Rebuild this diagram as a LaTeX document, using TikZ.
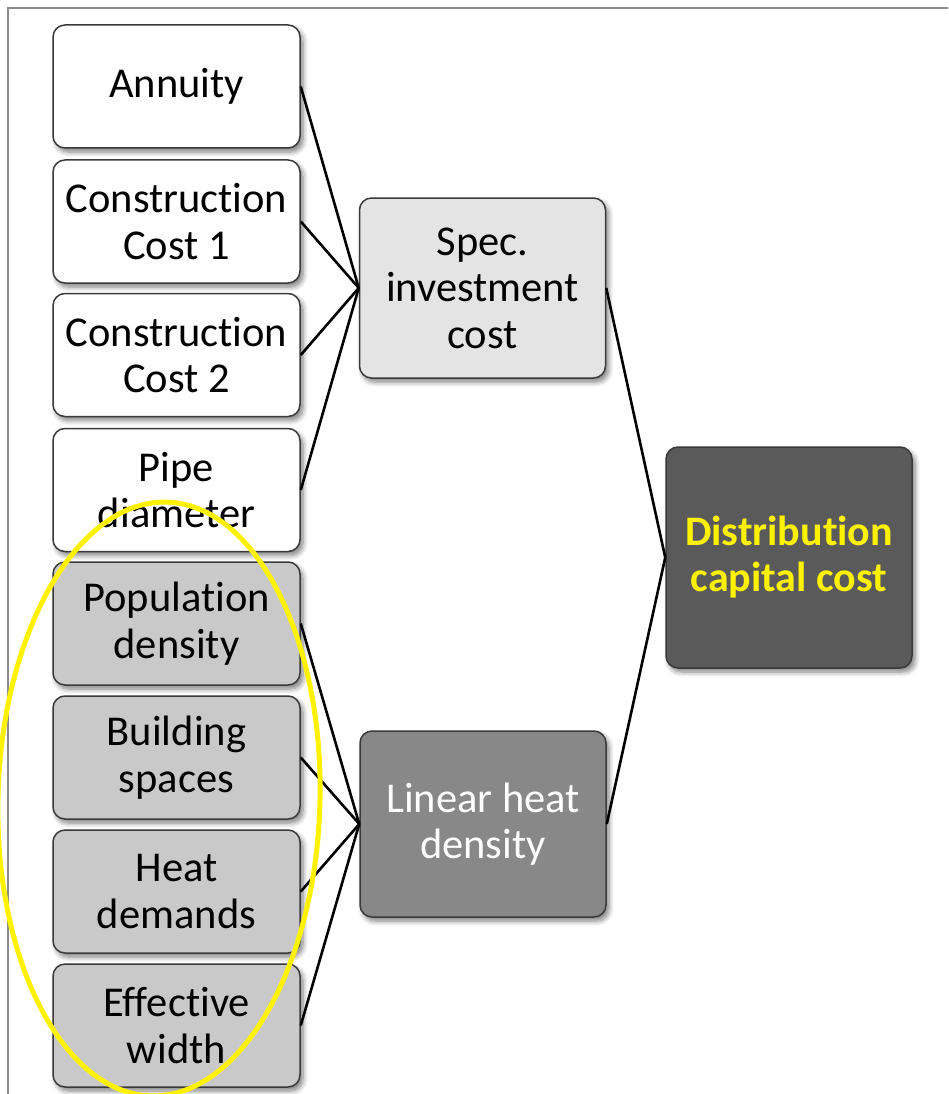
\documentclass[tikz,border=0pt]{standalone}
\usepackage{fontspec}
\setmainfont[Ligatures=NoCommon]{Carlito}
\usetikzlibrary{shadows.blur,shapes.geometric}
\definecolor{boxline}{HTML}{3A3A3A}
\definecolor{specfill}{HTML}{E4E4E4}
\definecolor{inputgray}{HTML}{C9C9C9}
\definecolor{linfill}{HTML}{888888}
\definecolor{distfill}{HTML}{5A5A5A}
\definecolor{framegray}{HTML}{8C8C8C}
\tikzset{
  card/.style={draw=boxline, line width=1.5pt, rounded corners=12pt,
    inner sep=0pt, align=center,
    font=\fontsize{42.5}{46.5}\selectfont,
    blur shadow={shadow xshift=3pt, shadow yshift=-4pt, shadow blur steps=6,
      shadow blur radius=5pt, shadow opacity=50}},
  inbox/.style={card, minimum width=247pt, minimum height=123pt},
  midbox/.style={card, minimum width=246pt},
  link/.style={black, line width=2.6pt},
}
\begin{document}
\begin{tikzpicture}[x=1pt, y=-1pt]
  \useasboundingbox (0,0) rectangle (948,1094);
  % outer frame, running off the right and bottom edges
  \begin{scope}
    \clip (0,0) rectangle (948,1094);
    \draw[framegray, line width=1.5pt] (8,1120) -- (8,8) -- (980,8);
  \end{scope}

  % input quantities
  \node[inbox, fill=white]     (ann)  at (176.5, 86.5)  {Annuity};
  \node[inbox, fill=white]     (cc1)  at (176.5, 221.5) {Construction\\Cost 1};
  \node[inbox, fill=white]     (cc2)  at (176.5, 355)   {Construction\\Cost 2};
  \node[inbox, fill=white]     (pipe) at (176.5, 490)   {Pipe\\diameter};
  \node[inbox, fill=inputgray] (pop)  at (176.5, 623.5) {Population\\density};
  \node[inbox, fill=inputgray] (bld)  at (176.5, 757.5) {Building\\spaces};
  \node[inbox, fill=inputgray] (heat) at (176.5, 891.5) {Heat\\demands};
  \node[inbox, fill=inputgray] (eff)  at (176.5, 1025.5){Effective\\width};

  % intermediate quantities
  \node[midbox, fill=specfill, minimum height=180pt] (spec) at (482.5, 288)
    {Spec.\\investment\\cost};
  \node[midbox, fill=linfill, minimum height=186pt, text=white] (lin) at (483, 824)
    {Linear heat\\density};

  % result
  \node[midbox, fill=distfill, minimum height=221pt, text=yellow,
        font=\fontsize{42}{46}\selectfont\bfseries] (dist) at (789, 557.5)
    {Distribution\\capital cost};

  % connectors
  \foreach \n in {ann, cc1, cc2, pipe}
    \draw[link] (\n.east) -- (spec.west);
  \foreach \n in {pop, bld, heat, eff}
    \draw[link] (\n.east) -- (lin.west);
  \draw[link] (spec.east) -- (dist.west);
  \draw[link] (lin.east) -- (dist.west);

  % highlight around the spatial inputs
  \node[draw=yellow, line width=5pt, ellipse, minimum width=322pt,
        minimum height=594pt, inner sep=0pt, rotate=-1.5] (hl) at (159, 799) {};
\end{tikzpicture}
\end{document}
